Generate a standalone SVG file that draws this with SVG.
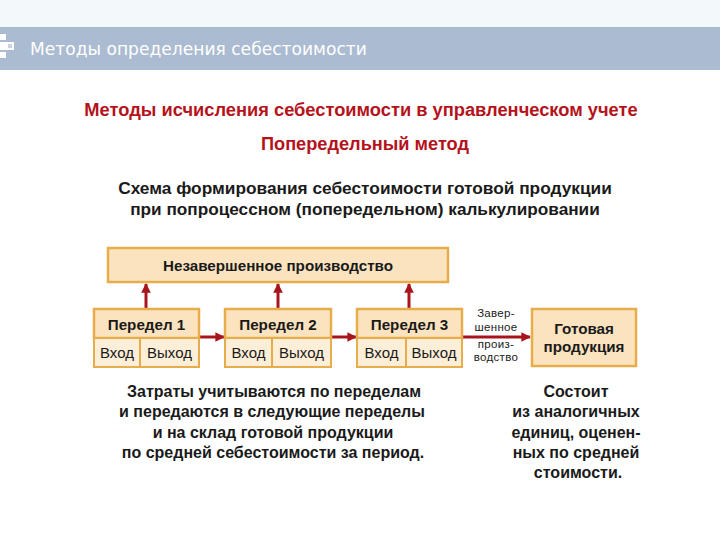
<svg xmlns="http://www.w3.org/2000/svg" width="720" height="540" viewBox="0 0 720 540">
<defs>
<style>
.box{fill:#fbe3bf;stroke:#e6ad4a;stroke-width:2.5}
.sub{fill:#fdeed8;stroke:#e6ad4a;stroke-width:2}
.t{font-family:"Liberation Sans",Arial,sans-serif;fill:#1a1a1a}
.b{font-weight:bold}
.sm{font-size:11.5px;letter-spacing:0.3px}
.red{fill:#b5121b;font-weight:bold;font-family:"Liberation Sans",Arial,sans-serif}
.conn{stroke:#a8141c;stroke-width:3;fill:none}
</style>
<marker id="ah" viewBox="0 0 10 10" refX="9" refY="5" markerWidth="3.2" markerHeight="3.2" orient="auto" markerUnits="strokeWidth">
<path d="M0,0 L10,5 L0,10 z" fill="#a8141c"/>
</marker>
</defs>
<rect width="720" height="540" fill="#ffffff"/>
<rect width="720" height="27" fill="#f3f9fb"/>
<g id="header">
<rect x="0" y="27" width="720" height="43" fill="#abbbd1"/>
<rect x="0" y="34" width="6" height="6" fill="#ffffff"/>
<rect x="0" y="42" width="14" height="8" fill="#ffffff"/>
<rect x="0" y="52" width="6" height="6" fill="#ffffff"/>
<rect x="8" y="44" width="4" height="4" fill="#c9d4e3"/>
<text x="30" y="55" font-family="Verdana,'DejaVu Sans',sans-serif" font-size="17.1" fill="#ffffff">Методы определения себестоимости</text>
</g>
<g id="titles">
<text class="red" x="361" y="116" font-size="18.3" text-anchor="middle">Методы исчисления себестоимости в управленческом учете</text>
<text class="red" x="365" y="150" font-size="18.2" text-anchor="middle">Попередельный метод</text>
<text class="t b" x="365" y="194" font-size="17.3" text-anchor="middle">Схема формирования себестоимости готовой продукции</text>
<text class="t b" x="365" y="215" font-size="17.2" text-anchor="middle">при попроцессном (попередельном) калькулировании</text>
</g>
<g id="connectors">
<line class="conn" x1="146" y1="308" x2="146" y2="284" marker-end="url(#ah)"/>
<line class="conn" x1="278" y1="308" x2="278" y2="284" marker-end="url(#ah)"/>
<line class="conn" x1="409" y1="308" x2="409" y2="284" marker-end="url(#ah)"/>
<line class="conn" x1="199" y1="337" x2="224" y2="337" marker-end="url(#ah)"/>
<line class="conn" x1="331" y1="337" x2="356" y2="337" marker-end="url(#ah)"/>
<line class="conn" x1="462" y1="337" x2="530" y2="337" marker-end="url(#ah)"/>
<text class="t sm" x="496" y="317" text-anchor="middle">Завер-</text>
<text class="t sm" x="496" y="330.5" text-anchor="middle">шенное</text>
<text class="t sm" x="496" y="347.5" text-anchor="middle">произ-</text>
<text class="t sm" x="496" y="361" text-anchor="middle">водство</text>
</g>
<g id="wip">
<rect class="box" x="108" y="248" width="340" height="34"/>
<text class="t b" x="278" y="270.5" font-size="15.2" text-anchor="middle">Незавершенное производство</text>
</g>
<g id="p1">
<rect class="box" x="94" y="309" width="105" height="29"/>
<rect class="sub" x="94" y="338" width="46" height="29"/>
<rect class="sub" x="140" y="338" width="59" height="29"/>
<text class="t b" x="146.5" y="329.5" font-size="15.2" text-anchor="middle">Передел 1</text>
<text class="t" x="117" y="357.5" font-size="15" text-anchor="middle">Вход</text>
<text class="t" x="169.5" y="357.5" font-size="15" text-anchor="middle">Выход</text>
</g>
<g id="p2">
<rect class="box" x="225" y="309" width="106" height="29"/>
<rect class="sub" x="225" y="338" width="47" height="29"/>
<rect class="sub" x="272" y="338" width="59" height="29"/>
<text class="t b" x="278" y="329.5" font-size="15.2" text-anchor="middle">Передел 2</text>
<text class="t" x="248.5" y="357.5" font-size="15" text-anchor="middle">Вход</text>
<text class="t" x="301.5" y="357.5" font-size="15" text-anchor="middle">Выход</text>
</g>
<g id="p3">
<rect class="box" x="357" y="309" width="105" height="29"/>
<rect class="sub" x="357" y="338" width="49" height="29"/>
<rect class="sub" x="406" y="338" width="56" height="29"/>
<text class="t b" x="409.5" y="329.5" font-size="15.2" text-anchor="middle">Передел 3</text>
<text class="t" x="381.5" y="357.5" font-size="15" text-anchor="middle">Вход</text>
<text class="t" x="434" y="357.5" font-size="15" text-anchor="middle">Выход</text>
</g>
<g id="finished">
<rect class="box" x="532" y="309" width="104" height="57"/>
<text class="t b" x="584" y="334" font-size="15.2" text-anchor="middle">Готовая</text>
<text class="t b" x="584" y="352" font-size="15.2" text-anchor="middle">продукция</text>
</g>
<g id="notes">
<text class="t b" x="274" y="397" font-size="16" text-anchor="middle">Затраты учитываются по переделам</text>
<text class="t b" x="272" y="417" font-size="16" text-anchor="middle">и передаются в следующие переделы</text>
<text class="t b" x="273" y="438" font-size="16" text-anchor="middle">и на склад готовой продукции</text>
<text class="t b" x="273" y="458" font-size="16" text-anchor="middle">по средней себестоимости за период.</text>
<text class="t b" x="576" y="397" font-size="16" text-anchor="middle">Состоит</text>
<text class="t b" x="576" y="417" font-size="16" text-anchor="middle">из аналогичных</text>
<text class="t b" x="576" y="438" font-size="16" text-anchor="middle">единиц, оценен-</text>
<text class="t b" x="576" y="458" font-size="16" text-anchor="middle">ных по средней</text>
<text class="t b" x="578" y="478" font-size="16" text-anchor="middle">стоимости.</text>
</g>
</svg>
